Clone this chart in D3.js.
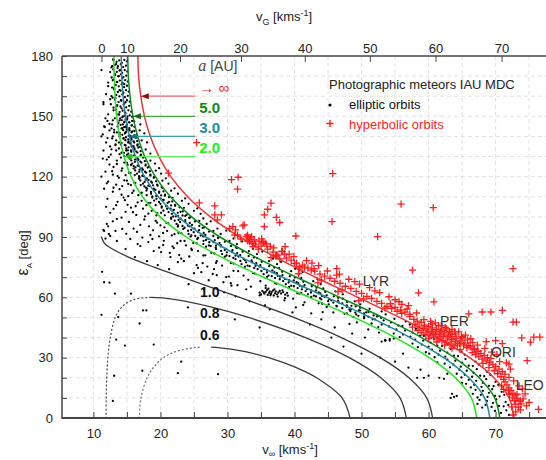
<!DOCTYPE html>
<html><head><meta charset="utf-8">
<script src="https://cdn.jsdelivr.net/npm/d3@7"></script>
<style>
html,body{margin:0;padding:0;background:#fff;}
svg{display:block;font-family:"Liberation Sans",Arial,sans-serif;}
</style></head>
<body>
<svg id="c" width="546" height="460"></svg>
<script>
// ---------------- DATA ----------------
const vInfTicks = [10,15,20,25,30,35,40,45,50,55,60,65,70,75];
const vInfLabels = [10,20,30,40,50,60,70];
const vGTicks = [0,10,20,30,40,50,60,70];
const epsTicks = [0,10,20,30,40,50,60,70,80,90,100,110,120,130,140,150,160,170,180];
const epsLabels = [0,30,60,90,120,150,180];
const gridV = [10,15,20,25,30,35,40,45,50,55,60,65,70,75];
const gridE = [10,20,30,40,50,60,70,80,90,100,110,120,130,140,150,160,170];

// theoretical curves: [v_inf, eps]
const curveAinf = [[16.64,180],[16.74,170],[17.07,160],[17.62,150],[18.49,140],[19.78,130],[21.55,120],[24.06,110],[27.45,100],[31.82,90],[37.13,80],[43.13,70],[49.47,60],[55.68,50],[61.35,40],[66.14,30],[69.75,20],[72.01,10],[72.76,0]];
const curveA5 = [[15.13,180],[15.21,170],[15.46,160],[15.90,150],[16.61,140],[17.66,130],[19.23,120],[21.49,110],[24.65,100],[28.90,90],[34.19,80],[40.29,70],[46.77,60],[53.13,50],[58.95,40],[63.86,30],[67.55,20],[69.86,10],[70.62,0]];
const curveA3 = [[14.16,180],[14.23,170],[14.42,160],[14.78,150],[15.37,140],[16.28,130],[17.63,120],[19.68,110],[22.65,100],[26.77,90],[32.05,80],[38.22,70],[44.82,60],[51.33,50],[57.25,40],[62.25,30],[66.01,20],[68.36,10],[69.14,0]];
const curveA2 = [[13.05,180],[13.09,170],[13.23,160],[13.48,150],[13.90,140],[14.57,130],[15.63,120],[17.32,110],[19.95,100],[23.85,90],[29.10,80],[35.39,70],[42.20,60],[48.90,50],[55.01,40],[60.13,30],[63.99,20],[66.38,10],[67.19,0]];
const curveA1 = [[11.2,90],[11.63,87],[12.34,85],[15.24,80],[19.05,75],[23.24,70],[31.82,60],[39.89,50],[46.98,40],[52.78,30],[57.07,20],[59.72,10],[60.61,0]];
const curveA08 = [[18.63,60],[19.38,59.9],[20.9,59.5],[23.79,58],[27.81,55],[33.13,50],[41.63,40],[48.17,30],[52.87,20],[55.74,10],[56.69,0]];
const curveA08dot = [[11.89,0],[11.91,10],[11.99,20],[12.16,30],[12.52,40],[13.26,50],[14.19,55],[15.39,58],[16.84,59.5],[17.96,59.9],[18.63,60]];
const curveA06 = [[27.64,35.2],[28.63,35],[32.67,33],[36.16,30],[40.29,25],[43.30,20],[47.09,10],[48.29,0]];
const curveA06dot = [[16.85,0],[17.10,10],[18.02,20],[18.93,25],[20.45,30],[22.25,33],[25.06,35],[25.93,35.2]];

// annotation arrows for a = inf, 5, 3, 2
const arrowEps = [160,150,140,130];
const arrowTipV = [17.07,15.90,15.37,14.57];
const arrowStartV = 25.2;
const arrowLabels = ["\u2192 \u221E","5.0","3.0","2.0"];

// labels on the a<=1 curves
const smallALabels = ["1.0","0.8","0.6"];
const smallALabelPos = [[25.9,60.3],[25.9,49.8],[25.9,38.9]];

// shower labels
const showerNames = ["LYR","PER","ORI","LEO"];
const showerPos = [[50.2,65.5],[61.7,45.5],[69.3,30.5],[73.0,14]];

// elliptic orbits [v_inf, eps]
const ellipticTop = [[13.0,178],[13.4,176],[12.8,175],[13.6,174],[14.0,173],[12.5,172],[13.2,171],[13.8,170],[14.3,169],[12.9,168],[13.5,167],[14.6,166],[12.2,165],[13.1,164],[13.9,163],[14.4,162],[11.9,161],[12.7,160],[13.3,159],[14.1,158],[14.8,157],[11.5,156],[12.6,156],[13.5,155],[14.2,154],[13.0,153],[14.7,152],[12.2,151],[13.7,151],[14.4,150],[15.1,150],[11.8,149],[13.2,149],[13.9,148],[14.6,147],[12.8,146],[15.0,146],[11.6,145],[13.6,145],[14.3,144],[15.4,143],[12.4,143],[13.1,142],[14.8,142],[11.4,141],[13.9,141],[15.6,140],[12.9,140],[14.5,139],[13.4,138],[11.9,137],[15.2,137],[14.1,136],[12.5,135],[16.0,135],[13.8,134],[14.9,133],[11.5,133],
[11.2,173],[12.2,166.8],[11.5,157],[12.5,158.5],[11.2,140],[11.7,144.7],[12.1,147.7],[11.4,129],[12.0,128.5],[11.2,120],[12.0,116.7],[13.0,114.5],[11.9,105],[12.5,102],[11.5,93.5],[12.2,95.3],[12.9,97.8],[11.8,89.2],[12.5,90.5],[13.3,93]];

const ellipticStrip = [[12.95,178.3],[13.46,177.1],[13.85,177.8],[14.24,176.6],[14.62,178.0],[15.01,177.3],
[12.70,174.3],[13.22,175.6],[13.66,174.9],[14.08,175.9],[14.44,174.5],[14.86,175.2],
[12.97,173.3],[13.49,172.1],[13.89,172.8],[14.28,171.6],[14.67,173.0],[15.06,172.3],
[12.72,169.3],[13.25,170.6],[13.69,169.9],[14.11,170.9],[14.48,169.5],[14.90,170.2],
[13.03,168.3],[13.55,167.1],[13.95,167.8],[14.35,166.6],[14.74,168.0],[15.14,167.3],
[12.79,164.3],[13.33,165.6],[13.78,164.9],[14.21,165.9],[14.58,164.5],[15.01,165.2],
[13.11,163.3],[13.65,162.1],[14.05,162.8],[14.46,161.6],[14.86,163.0],[15.27,162.3],
[12.87,159.3],[13.41,160.6],[13.88,159.9],[14.31,160.9],[14.70,159.5],[15.13,160.2],
[13.21,158.3],[13.76,157.1],[14.18,157.8],[14.60,156.6],[15.01,158.0],[15.43,157.3],
[13.00,154.3],[13.57,155.6],[14.04,154.9],[14.50,155.9],[14.89,154.5],[15.34,155.2],
[13.35,153.3],[13.92,152.1],[14.36,152.8],[14.79,151.6],[15.22,153.0],[15.65,152.3]];

const ellipticCore = [[13.84,150.8],[14.33,149.6],[14.69,150.3],[15.05,149.1],[15.42,150.5],[15.78,149.8],
[13.71,146.8],[14.21,148.1],[14.63,147.4],[15.03,148.4],[15.38,147.0],[15.78,147.7],
[14.07,145.8],[14.58,144.6],[14.97,145.3],[15.35,144.1],[15.74,145.5],[16.12,144.8],
[13.92,141.8],[14.45,143.1],[14.90,142.4],[15.32,143.4],[15.69,142.0],[16.11,142.7],
[14.31,140.8],[14.85,139.6],[15.26,140.3],[15.66,139.1],[16.07,140.5],[16.47,139.8],
[14.21,136.8],[14.77,138.1],[15.25,137.4],[15.69,138.4],[16.09,137.0],[16.53,137.7],
[14.67,135.8],[15.25,134.6],[15.68,135.3],[16.12,134.1],[16.55,135.5],[16.99,134.8],
[14.55,131.8],[15.15,133.1],[15.66,132.4],[16.14,133.4],[16.56,132.0],[17.04,132.7],
[15.03,130.8],[15.65,129.6],[16.12,130.3],[16.58,129.1],[17.04,130.5],[17.51,129.8],
[15.00,126.8],[15.65,128.1],[16.19,127.4],[16.71,128.4],[17.16,127.0],[17.67,127.7],
[15.60,125.8],[16.27,124.6],[16.78,125.3],[17.28,124.1],[17.78,125.5],[18.28,124.8],
[15.54,121.8],[16.24,123.1],[16.83,122.4],[17.38,123.4],[17.87,122.0],[18.42,122.7],
[16.17,120.8],[16.89,119.6],[17.43,120.3],[17.97,119.1],[18.51,120.5],[19.05,119.8],
[16.25,116.8],[17.00,118.1],[17.63,117.4],[18.23,118.4],[18.75,117.0],[19.35,117.7],
[17.06,115.8],[17.84,114.6],[18.43,115.3],[19.01,114.1],[19.59,115.5],[20.18,114.8],
[17.10,111.8],[17.91,113.1],[18.59,112.4],[19.24,113.4],[19.80,112.0],[20.45,112.7],
[17.95,110.8],[18.78,109.6],[19.41,110.3],[20.03,109.1],[20.66,110.5],[21.28,109.8],
[18.20,106.8],[19.06,108.1],[19.79,107.4],[20.48,108.4],[21.08,107.0],[21.77,107.7],
[19.30,105.8],[20.19,104.6],[20.86,105.3],[21.52,104.1],[22.19,105.5],[22.86,104.8],
[19.52,101.8],[20.44,103.1],[21.21,102.4],[21.95,103.4],[22.59,102.0],[23.32,102.7],
[20.66,100.8],[21.60,99.6],[22.30,100.3],[23.01,99.1],[23.71,100.5],[24.42,99.8],
[21.17,96.8],[22.13,98.1],[22.94,97.4],[23.71,98.4],[24.38,97.0],[25.15,97.7],
[22.63,95.8],[23.61,94.6],[24.34,95.3],[25.07,94.1],[25.80,95.5],[26.54,94.8],
[23.13,91.8],[24.12,93.1],[24.96,92.4],[25.76,93.4],[26.45,92.0],[27.24,92.7],
[24.61,90.8],[25.62,89.6],[26.38,90.3],[27.13,89.1],[27.89,90.5],[28.65,89.8],
[25.41,86.8],[26.43,88.1],[27.29,87.4],[28.10,88.4],[28.81,87.0],[29.62,87.7],
[27.23,85.8],[28.25,84.6],[29.01,85.3],[29.77,84.1],[30.53,85.5],[31.30,84.8],
[28.04,81.8],[29.06,83.1],[29.92,82.4],[30.74,83.4],[31.45,82.0],[32.26,82.7],
[29.86,80.8],[30.88,79.6],[31.65,80.3],[32.41,79.1],[33.17,80.5],[33.94,79.8],
[30.92,76.8],[31.93,78.1],[32.79,77.4],[33.59,78.4],[34.30,77.0],[35.11,77.7],
[32.99,75.8],[33.99,74.6],[34.74,75.3],[35.48,74.1],[36.23,75.5],[36.98,74.8],
[34.07,71.8],[35.06,73.1],[35.89,72.4],[36.69,73.4],[37.38,72.0],[38.17,72.7],
[36.13,70.8],[37.11,69.6],[37.84,70.3],[38.58,69.1],[39.31,70.5],[40.05,69.8],
[37.34,66.8],[38.30,68.1],[39.12,67.4],[39.89,68.4],[40.56,67.0],[41.33,67.7],
[39.51,65.8],[40.46,64.6],[41.17,65.3],[41.87,64.1],[42.58,65.5],[43.29,64.8],
[40.73,61.8],[41.66,63.1],[42.45,62.4],[43.20,63.4],[43.85,62.0],[44.59,62.7],
[42.89,60.8],[43.80,59.6],[44.49,60.3],[45.17,59.1],[45.86,60.5],[46.54,59.8],
[44.12,56.8],[45.02,58.1],[45.79,57.4],[46.50,58.4],[47.13,57.0],[47.85,57.7],
[46.26,55.8],[47.14,54.6],[47.80,55.3],[48.46,54.1],[49.12,55.5],[49.78,54.8],
[47.47,51.8],[48.33,53.1],[49.06,52.4],[49.76,53.4],[50.36,52.0],[51.05,52.7],
[49.53,50.8],[50.38,49.6],[51.02,50.3],[51.65,49.1],[52.28,50.5],[52.92,49.8]];

const ellipticBand = [[14.0,149],[14.8,148.5],[15.3,147],[13.7,146.5],[16.1,147.5],[14.4,146],[15.7,145.5],[12.9,148],[17.0,146],[14.9,145],
[14.2,144],[15.0,143.5],[15.8,142.5],[16.5,141],[13.5,142],[14.7,141.5],[15.4,140.5],[16.9,143],[12.7,144],[13.9,140],[17.6,141.5],[14.9,144.5],
[14.5,139],[15.2,138.5],[16.0,137.5],[16.6,136],[13.8,137],[15.5,136.5],[17.2,138],[14.8,135.5],[12.8,139],[13.3,136],[18.0,137],[15.9,135],[16.3,139.5],
[14.9,134],[15.6,133],[16.4,132.5],[17.1,131],[14.2,132],[15.2,131.5],[16.0,130.5],[17.8,133.5],[13.4,133],[12.6,131],[16.7,134.5],[18.5,131.5],[15.8,134.8],[14.6,130.2],
[15.4,129],[16.2,128.5],[17.0,127.5],[17.8,126],[14.6,127],[15.8,126.5],[16.6,125.5],[18.5,128],[13.5,128],[12.4,126],[17.4,129.5],[19.2,126.5],[16.0,125.2],[14.1,129.5],[15.1,125.8],[13.0,124.8],
[16.0,124],[16.9,123.5],[17.7,122.5],[18.5,121],[15.3,122],[16.5,121.5],[17.3,120.5],[19.3,123],[14.2,123],[12.9,121],[18.1,124.5],[20.1,121.5],[16.8,120.2],[14.8,120.8],[11.8,122.5],[13.6,120.3],[19.8,124.2],
[16.8,119],[17.8,118.5],[18.6,117.5],[19.5,116],[16.1,117],[17.4,116.5],[18.2,115.5],[20.3,118],[15.0,118],[13.4,116],[19.0,119.5],[21.2,116.5],[17.6,115.2],[15.6,115.8],[12.2,117.5],[14.3,115.3],[20.8,119.2],[18.9,115.7],
[18.0,114],[19.0,113.5],[19.8,112.5],[20.7,111],[17.2,112],[18.6,111.5],[19.4,110.5],[21.6,113],[16.0,113],[14.2,111],[20.3,114.5],[22.6,111.5],[18.8,110.2],[16.7,110.8],[12.9,112.5],[15.2,110.3],[22.1,114.2],[20.1,110.7],[11.6,114],
[19.4,109],[20.4,108.5],[21.3,107.5],[22.2,106],[18.5,107],[20.0,106.5],[20.9,105.5],[23.2,108],[17.2,108],[15.1,106],[21.8,109.5],[24.2,106.5],[20.2,105.2],[17.9,105.8],[13.6,107.5],[16.3,105.3],[23.7,109.2],[21.6,105.7],[12.1,109],[14.5,109.6],
[21.0,104],[22.0,103.5],[23.0,102.5],[23.9,101],[20.1,102],[21.7,101.5],[22.6,100.5],[25.0,103],[18.7,103],[16.4,101],[23.5,104.5],[26.0,101.5],[21.9,100.2],[19.4,100.8],[14.8,102.5],[17.7,100.3],[25.5,104.2],[23.3,100.7],[13.0,104],[15.6,104.6]];

const ellipticHalo = [[12.4,146.2],[13.1,143.3],[12.1,139.2],[13.3,135.7],[12.7,133.6],[13.9,131.2],[12.3,129.7],[13.5,126.3],[14.3,124.1],[12.8,122.7],[14.6,118.2],[13.8,119.4],[15.2,116.4],[13.9,113.8],[15.8,111.9],[14.7,108.3],[16.6,107.2],[13.4,105.8],[17.4,104.1],[15.9,102.3],[18.2,101.6],[14.2,99.6],[17.6,98.7],[19.5,97.1],[16.0,94.2],[20.6,94.8],[18.9,93.3],[14.9,91.6],[22.1,91.4],[17.3,89.7],[20.5,88.1],[22.5,86.9],[19.8,84.7],[24.6,84.2],[21.4,82.1],[26.7,80.9],[23.1,79.2],[28.3,77.1],[25.6,74.6],[30.9,73.2],[27.8,71.6],[33.1,68.7],[30.6,65.8],[35.7,64.6],[38.6,59.6],[41.3,56.2],[44.2,52.6]];

const ellipticMid = [[21.6,99],[22.7,98.5],[23.7,97.5],[24.7,96],[20.9,97],[22.4,96.5],[23.3,95.5],[25.8,98],[19.3,98],[17.0,96],[24.3,99.5],[26.9,96.5],[22.6,95.2],[20.0,95.8],[15.3,97.5],[18.3,95.3],[26.4,99.2],[24.1,95.7],[13.5,99],[12.0,96.5],[27.5,97.8],
[23.4,94],[24.6,93.5],[25.6,92.5],[26.7,91],[22.7,92],[24.2,91.5],[25.2,90.5],[27.9,93],[21.0,93],[18.5,91],[26.3,94.5],[29.0,91.5],[24.5,90.2],[21.7,90.8],[16.5,92.5],[19.8,90.3],[28.5,94.2],[26.0,90.7],[14.3,94],[12.3,91.5],[29.8,93.2],[11.6,93],
[25.5,89],[26.8,88.5],[27.9,87.5],[29.0,86],[24.9,87],[26.4,86.5],[27.5,85.5],[30.3,88],[23.0,88],[20.4,86],[28.6,89.5],[31.4,86.5],[26.8,85.2],[23.8,85.8],[18.2,87.5],[21.8,85.3],[30.9,89.2],[28.3,85.7],[15.5,89],[32.2,87.8],[17.0,85.5],
[28.3,84],[29.6,83.5],[30.7,82.5],[31.9,81],[27.6,82],[29.2,81.5],[30.3,80.5],[33.2,83],[25.6,83],[22.8,81],[31.4,84.5],[34.4,81.5],[29.6,80.2],[26.4,80.8],[20.1,82.5],[24.3,80.3],[33.8,84.2],[31.2,80.7],[35.2,82.8],
[31.2,79],[32.6,78.5],[33.7,77.5],[34.9,76],[30.5,77],[32.1,76.5],[33.3,75.5],[36.2,78],[28.4,78],[25.4,76],[34.4,79.5],[37.4,76.5],[32.6,75.2],[29.2,75.8],[22.6,77.5],[27.0,75.3],[36.8,79.2],[34.2,75.7],[38.0,77.6],
[34.5,74],[35.9,73.5],[37.0,72.5],[38.2,71],[33.8,72],[35.4,71.5],[36.6,70.5],[39.5,73],[31.6,73],[28.4,71],[37.7,74.5],[40.6,71.5],[35.9,70.2],[32.4,70.8],[26.1,72.5],[30.2,70.3],[40.1,74.2],[37.5,70.7],[41.2,72.6],
[37.8,69],[39.2,68.5],[40.3,67.5],[41.5,66],[37.1,67],[38.7,66.5],[39.9,65.5],[42.8,68],[34.9,68],[31.5,66],[41.0,69.5],[43.9,66.5],[39.2,65.2],[35.7,65.8],[29.4,67.5],[33.5,65.3],[43.4,69.2],[40.8,65.7],
[41.1,64],[42.5,63.5],[43.6,62.5],[44.8,61],[40.4,62],[42.0,61.5],[43.2,60.5],[46.1,63],[38.2,63.5],[34.8,61],[44.3,64.5],[47.2,61.5],[42.5,60.2],[39.0,60.8],[46.7,64.2],[44.1,60.7]];

const ellipticBlob = [[34.8,62.3],[35.2,63.1],[35.5,61.8],[35.7,62.7],[35.9,63.6],[36.0,61.2],[36.2,62.2],[36.3,63.0],[36.5,61.7],[36.6,62.6],[36.8,63.4],[36.9,60.9],[37.1,62.0],[37.2,62.9],[37.4,61.5],[37.6,62.4],[37.8,63.2],[38.0,61.9],[38.3,62.6],[38.6,61.3],[35.4,62.5],[36.4,61.0],[37.0,64.0],[35.0,61.4],[38.9,62.2],[36.1,64.3],[37.5,60.4]];

const ellipticLow = [[44.0,59],[45.5,58.5],[46.6,57.5],[47.8,56],[43.6,57],[45.1,56.5],[46.3,55.5],[49.0,58],[48.5,55.8],[47.2,59.3],[49.8,56.5],[44.8,55.2],[41.5,57.5],
[48.2,54],[49.6,53.5],[50.7,52.5],[51.8,51],[47.8,52],[49.2,51.5],[50.4,50.5],[53.0,53],[52.5,50.8],[51.2,54.3],[53.6,51.5],[48.8,50.2],[45.8,52.5],
[52.0,49],[53.3,48.5],[54.4,47.5],[55.5,46],[51.5,47],[53.0,46.5],[54.1,45.5],[56.6,48],[56.1,45.8],[54.9,49.3],[57.2,46.5],[52.5,45.2],[49.3,47.5],
[55.2,44],[56.5,43.5],[57.6,42.5],[58.7,41],[54.8,42],[56.2,41.5],[57.3,40.5],[59.8,43],[59.3,40.8],[58.1,44.3],[60.3,41.5],[55.7,40.2],[52.6,42.5],[53.5,38.8],
[58.0,39],[59.2,38.5],[60.3,37.5],[61.3,36],[57.6,37],[59.0,36.5],[60.0,35.5],[62.5,38],[62.0,35.8],[60.8,39.3],[62.9,36.5],[58.4,35.2],[53.6,38.5],[54.2,39.2],[53.0,38.0],
[60.5,34],[61.7,33.5],[62.8,32.5],[63.8,31],[60.1,32],[61.5,31.5],[62.5,30.5],[64.9,33],[64.4,30.8],[63.3,34.3],[65.4,31.5],[60.9,30.2],
[62.8,29],[64.0,28.5],[65.0,27.5],[66.0,26],[62.4,27],[63.7,26.5],[64.8,25.5],[67.0,28],[66.6,25.8],[65.5,29.3],[67.5,26.5],[63.2,25.2],
[64.6,24],[65.7,23.5],[66.7,22.5],[67.7,21],[64.2,22],[65.4,21.5],[66.5,20.5],[68.7,23],[68.3,20.8],[67.2,24.3],[69.2,21.5],[64.9,20.2],
[66.0,19],[67.1,18.5],[68.1,17.5],[69.0,16],[65.6,17],[66.8,16.5],[67.9,15.5],[70.0,18],[69.7,15.8],[68.6,19.3],[70.4,16.5],[66.3,15.2],
[67.0,14],[68.1,13.5],[69.0,12.5],[69.9,11],[66.6,12],[67.8,11.5],[68.8,10.5],[70.9,13],[70.6,10.8],[69.5,14.3],[71.3,11.5],[67.3,10.2],
[67.6,9],[68.7,8.5],[69.6,7.5],[70.5,6],[67.3,7],[68.5,6.5],[69.4,5.5],[71.5,8],[71.2,5.8],[70.1,9.3],[71.9,6.5],[68.0,5.2],[69.9,3.5],[70.8,2.5],[71.6,3.8],[72.0,1.5]];

const ellipticScatter = [[11.3,72.7],[11.6,67.5],[12.4,67.3],[13.2,61.8],[15.6,61.8],[11.2,51.3],[13.7,50.2],[13.4,39],[14.7,36],[13.1,21],[12.9,8.5],[16.9,47],[17.4,53.5],[17.9,53.5],[19.0,36.5],[17.3,23.5],[22.6,22.3],[23.1,28],[28.6,21.8],[24.1,55],[31.1,49],[34.8,45],[48.2,46.8],[53.5,38.5],[54.2,38.5],[54.8,39.5],[58.3,20],[59.3,20],[60.0,21],[61.6,20],[63.5,12],[63.3,10],[63.8,10.5],[64.2,11],[62.3,19.5],[62.8,22],[65.0,17.5],[61.3,27.7],[59.6,32.7],
[13.5,88],[14.8,84],[16.2,80],[18.0,78],[19.6,76],[21.3,74],[16.6,86.5],[19.0,83],[21.5,80],[23.5,78],[25.0,72],[27.2,68.5],[29.8,70],[22.0,84.5],[24.7,83.5],[18.8,89],[20.4,92],[23.6,88],[26.3,77],[28.0,74],[30.5,67],[32.8,64],[31.2,60.5],[26.5,64],[24.2,66.5],[29.5,62.5],[33.3,58],[35.6,56],[38.5,58.5],[40.2,55],[42.5,52],[44.0,49],[46.0,45],[48.6,42],[50.5,40],[39.7,52.5],[36.3,54],[42.3,46.5],[45.5,40],[47.3,35.5],[50.0,32],[52.8,30],[55.0,28],[57.0,25],[58.8,24],[56.2,32],[51.0,44],[41.0,62.2],[39.8,59.3]];

// hyperbolic orbits [v_inf, eps]
const hyperOutliers = [[25.4,136.9],[21.2,121.8],[30.6,118.5],[31.6,119.7],[31.5,113.8],[45.7,121.5],[55.9,106.3],[60.7,104.6],[45.6,97.6],[52.4,90.2],[57.6,73.5],[72.6,74.3],[46.3,74.3],[40.2,90.5],[36.5,106.8],[36.0,103.8],[35.5,101],[35.5,95.2],[37.3,99.8],[37.8,97.2],[28.1,105.5],[28.1,101],[29.1,101],[30.8,95.2],[30.3,94.3],[31.2,93.5],[32.3,95.5],[33.0,91],[33.5,88.8],[35.3,87.2],[38.6,85.2],[39.2,81.5],[38.5,81.5],[37.2,80.5],[40.0,76.8],[40.7,75.2],[41.5,75],[42.5,73.5],[42.9,74.3],[25.8,107],[28.5,98.5],[32.5,96],[31.1,91],[32.8,90.2],[33.3,87.7],[35.3,87.7],[33.8,85.2],[37.3,81],[58.5,62.2],[60.8,57.7],[66.0,51.8],[68.0,52.7],[69.3,52.7],[71.0,53.5],[72.6,47.7],[73.1,47.7],[73.9,39.8],[75.2,37.7],[75.7,40.2],[76.6,40.2],[74.7,28.5],[76.4,4.3],[75.0,7.7]];

const hyperBand = [[32.0,89],[33.0,88],[34.2,86.5],[35.0,85.5],[36.0,84],[36.8,82.5],[37.5,81],[38.8,79.5],[39.5,78.5],[40.3,77],[41.2,76],[42.0,74.5],[43.0,73],[43.8,71.5],[44.5,70.5],[45.3,69.5],[46.0,68],[46.8,67],[47.6,65.5],[48.4,64.5],[49.2,63],[50.0,62],[50.8,60.5],[51.5,59.5],[52.3,58],[53.0,57],[53.8,55.5],[54.5,54.5],[55.3,53],[56.0,52],
[33.8,87],[35.6,86.8],[36.9,84.6],[38.1,83],[39.9,80.2],[41.8,78.3],[43.6,75.8],[44.9,73.1],[46.7,71.5],[48.1,69],[49.7,66.6],[51.2,64.8],[52.7,62.3],[54.1,60.3],[55.6,57.8],[57.0,55.9],[34.6,84.0],[37.8,79.1],[40.8,74.0],[44.0,68.6],[47.1,63.7],[50.3,59.2],[53.5,54.7],[38.2,82.7],[42.6,77.0],[46.3,71.0],[49.0,67.8],[52.0,63.2],[55.0,58.8],[31.5,91.0],[33.6,90.2],
[40.6,71.8],[43.5,67.2],[46.5,62.8],[49.6,58.3],[36.5,79.8],[33.2,89.5],[34.0,88.6],[34.7,87.9],[35.8,86.5],[35.1,89.1],[36.4,85.3],
[55.0,55.0],[55.8,53.8],[56.5,52.6],[57.2,51.5],[56.8,54.2],[58.2,52.2],[54.3,56.8],[56.0,56.5]];

const hyperPER = [[57.2,50.5],[57.8,49],[58.3,48.2],[58.9,47.5],[59.4,46.2],[60.0,45.5],[60.6,44.8],[61.2,44.0],[61.8,43.1],[62.4,42.3],[63.0,41.2],[63.6,40.5],[64.2,39.6],[64.8,38.3],[65.4,37.2],[66.0,36.0],
[58.0,46.5],[58.6,45.3],[59.2,44.6],[59.8,43.8],[60.4,43.0],[61.0,42.2],[61.6,41.4],[62.2,40.6],[62.8,39.8],[63.4,38.9],[64.0,38.0],[64.6,37.1],[65.2,36.2],
[59.0,42.4],[59.6,41.6],[60.2,40.8],[60.8,40.0],[61.4,39.2],[62.0,38.4],[62.6,37.6],[63.2,36.8],[63.8,35.9],
[60.5,46.8],[61.5,46.0],[62.5,45.0],[63.5,44.0],[64.5,42.8],[65.5,41.2],[66.3,39.5],
[59.3,48.9],[60.3,48.0],[61.0,47.3],[62.0,43.7],[63.1,43.0],[64.0,41.8],[64.9,40.6],[65.8,38.8],[66.6,37.5],
[60.0,39.5],[61.2,37.8],[62.4,36.2],[63.5,34.7],[64.7,34.0],
[58.4,43.5],[57.6,45.2],[61.9,45.8],[63.9,42.9],[65.1,39.9],[62.7,44.3],[60.7,41.9],[61.7,40.3],[63.3,41.7],[64.3,36.2],[65.7,35.0],[66.8,34.5],[67.4,33.2]];

const hyperORI = [[66.2,35.5],[66.8,34.0],[67.2,33.0],[67.8,32.0],[68.3,31.0],[68.8,30.0],[67.0,31.5],[67.5,30.5],[68.0,29.3],[68.6,28.4],[69.1,27.5],[69.6,26.5],[70.0,25.5],[70.5,24.3],[71.0,23.0],[71.4,21.8],[68.1,27.2],[69.0,25.0],[69.8,23.5],[70.3,22.0],[70.8,20.5],[71.2,19.2],[66.5,32.5],[67.3,36.2],[68.4,34.6],[69.4,32.8],[70.2,31.5],[71.0,37.0],[70.0,38.5],[68.6,38.0],[72.0,26.8],[72.2,24.3],[72.0,20.2],[69.3,29.6],[70.6,28.0],[71.6,27.4]];

const hyperLEO = [[71.4,18.0],[71.7,16.5],[72.0,15.0],[72.3,13.6],[72.6,12.2],[72.9,11.0],[73.2,9.6],[73.5,8.4],[73.8,7.0],[72.1,11.8],[72.5,10.0],[72.8,8.6],[73.0,6.8],[73.4,5.4],[73.7,4.0],[74.1,9.5],[74.4,12.0],[73.7,8.5],[73.2,11.8],[74.6,6.0],[71.9,13.8],[72.4,5.5],[73.0,3.0],[72.6,1.5],[70.9,16.0],[71.2,14.2],[74.0,14.5],[73.5,16.0],[72.7,18.5]];

// ---------------- DRAW ----------------
const W = 546, H = 460;
const L = 62, R = 546, T = 56, B = 418;
const svg = d3.select("#c");
const x = d3.scaleLinear().domain([10,70]).range([93.4,495.6]);
const y = d3.scaleLinear().domain([0,180]).range([B,T]);
const vEsc = 11.2;
const FONT = "'Liberation Sans',Arial,sans-serif";

svg.append("defs").append("clipPath").attr("id","plot")
  .append("rect").attr("x",L).attr("y",T).attr("width",R-L).attr("height",B-T);

// grid
const grid = svg.append("g").attr("stroke","#d9d9d9").attr("stroke-width",0.8).attr("stroke-dasharray","4,3");
grid.selectAll("line.v").data(gridV).join("line").attr("class","v")
  .attr("x1",d=>x(d)).attr("x2",d=>x(d)).attr("y1",T).attr("y2",B);
grid.selectAll("line.h").data(gridE).join("line").attr("class","h")
  .attr("x1",L).attr("x2",R).attr("y1",d=>y(d)).attr("y2",d=>y(d));

const plot = svg.append("g").attr("clip-path","url(#plot)");

// elliptic dots
const elliptic = [].concat(ellipticTop, ellipticStrip, ellipticCore, ellipticBand, ellipticHalo, ellipticMid, ellipticBlob, ellipticLow, ellipticScatter);
plot.append("g").selectAll("circle").data(elliptic).join("circle")
  .attr("cx",d=>x(d[0])).attr("cy",d=>y(d[1])).attr("r",1.15).attr("fill","#000");

// curves
const line = d3.line().x(d=>x(d[0])).y(d=>y(d[1])).curve(d3.curveCatmullRom.alpha(0.5));
const curves = [
  {d:curveA1, c:"#3a3a3a", w:1.3},
  {d:curveA08, c:"#3a3a3a", w:1.3},
  {d:curveA06, c:"#3a3a3a", w:1.3},
  {d:curveA08dot, c:"#555", w:1.3, dash:"1,3"},
  {d:curveA06dot, c:"#777", w:1.3, dash:"1,3"},
  {d:curveA2, c:"#22e022", w:1.5},
  {d:curveA3, c:"#1f8a9c", w:1.5},
  {d:curveA5, c:"#0a8a1a", w:1.5},
  {d:curveAinf, c:"#e8363a", w:1.5}
];
plot.append("g").selectAll("path").data(curves).join("path")
  .attr("d",c=>line(c.d)).attr("fill","none").attr("stroke",c=>c.c)
  .attr("stroke-width",c=>c.w).attr("stroke-dasharray",c=>c.dash||null)
  .attr("stroke-linecap","round");

// hyperbolic crosses
const hyper = [].concat(hyperOutliers, hyperBand, hyperPER, hyperORI, hyperLEO);
plot.append("g").selectAll("path").data(hyper).join("path")
  .attr("d",d=>`M${x(d[0])-3.6},${y(d[1])}H${x(d[0])+3.6}M${x(d[0])},${y(d[1])-3.6}V${y(d[1])+3.6}`)
  .attr("stroke","#ff1f1f").attr("stroke-width",1.3).attr("fill","none");

// annotation arrows
const arrowLine = ["#e46a6a","#4aa84a","#3f9aa8","#5ee85e"];
const arrowHead = ["#8b1010","#0d6b0d","#176f7c","#22c022"];
const arrowText = ["#e8262a","#0e8a12","#1e8c9c","#22ee22"];
const ann = svg.append("g");
arrowEps.forEach((e,i)=>{
  const yy = y(e), xt = x(arrowTipV[i]), xs = x(arrowStartV);
  ann.append("line").attr("x1",xs).attr("x2",xt+6).attr("y1",yy).attr("y2",yy)
    .attr("stroke",arrowLine[i]).attr("stroke-width",1.2);
  ann.append("path").attr("d",`M${xt},${yy}L${xt+8},${yy-3}L${xt+8},${yy+3}Z`).attr("fill",arrowHead[i]);
  ann.append("text").attr("x",xs+4).attr("y",yy-3.3).text(arrowLabels[i])
    .attr("fill",arrowText[i]).attr("font-family",FONT)
    .attr("font-size",15).attr("font-weight",i===0?"normal":"bold");
});
const aT = ann.append("text").attr("x",x(arrowStartV)+3).attr("y",71).attr("font-family",FONT).attr("font-size",14).attr("fill","#444");
aT.append("tspan").text("a").attr("font-family","'Liberation Serif','Times New Roman',serif").attr("font-style","italic").attr("font-size",16);
aT.append("tspan").text(" [AU]");

// small a labels
svg.append("g").selectAll("text").data(smallALabels).join("text")
  .attr("x",(d,i)=>x(smallALabelPos[i][0])).attr("y",(d,i)=>y(smallALabelPos[i][1]))
  .text(d=>d).attr("font-family",FONT).attr("font-size",14).attr("font-weight","bold").attr("fill","#111");

// shower labels
svg.append("g").selectAll("text").data(showerNames).join("text")
  .attr("x",(d,i)=>x(showerPos[i][0])).attr("y",(d,i)=>y(showerPos[i][1]))
  .text(d=>d).attr("font-family",FONT).attr("font-size",14).attr("fill","#333");

// legend
const lg = svg.append("g").attr("font-family",FONT).attr("font-size",13);
lg.append("text").attr("x",329).attr("y",88.5).attr("fill","#222").text("Photographic meteors IAU MDC");
lg.append("circle").attr("cx",330).attr("cy",105).attr("r",1.6).attr("fill","#000");
lg.append("text").attr("x",349).attr("y",108.5).attr("fill","#111").text("elliptic orbits");
lg.append("path").attr("d","M326.4,123.5H333.6M330,119.9V127.1").attr("stroke","#ff1f1f").attr("stroke-width",1.4);
lg.append("text").attr("x",349).attr("y",128.5).attr("fill","#ff1f1f").text("hyperbolic orbits");

// axes
function styleAxis(g){
  g.select(".domain").remove();
  g.selectAll(".tick line").attr("stroke","#444").attr("stroke-width",1);
  g.selectAll(".tick text").attr("font-family",FONT).attr("font-size",13).attr("fill","#222");
}
svg.append("g").attr("transform",`translate(${L},0)`)
  .call(d3.axisLeft(y).tickValues(epsTicks).tickSizeInner(-5).tickSizeOuter(0).tickPadding(9)
    .tickFormat(d=>epsLabels.includes(d)?d:""))
  .call(styleAxis);
svg.append("g").attr("transform",`translate(0,${B})`)
  .call(d3.axisBottom(x).tickValues(vInfTicks).tickSizeInner(-6).tickSizeOuter(0).tickPadding(10.5)
    .tickFormat(d=>vInfLabels.includes(d)?d:""))
  .call(styleAxis);
svg.append("g").attr("transform",`translate(0,${T})`)
  .call(d3.axisTop(x).tickValues(vGTicks.map(g=>Math.sqrt(g*g+vEsc*vEsc))).tickSizeInner(-6).tickSizeOuter(0).tickPadding(3)
    .tickFormat((d,i)=>vGTicks[i]))
  .call(styleAxis);

// spines
const sp = svg.append("g").attr("stroke","#444");
sp.append("line").attr("x1",L).attr("x2",L).attr("y1",T).attr("y2",B+1).attr("stroke-width",1.5);
sp.append("line").attr("x1",L).attr("x2",W).attr("y1",T).attr("y2",T).attr("stroke-width",1.5);
sp.append("line").attr("x1",L).attr("x2",W).attr("y1",B).attr("y2",B).attr("stroke-width",2);

// axis titles
const tt = svg.append("text").attr("x",284).attr("y",21).attr("text-anchor","middle").attr("font-family",FONT).attr("font-size",13).attr("fill","#222");
tt.append("tspan").text("v");
tt.append("tspan").text("G").attr("font-size",9).attr("dy",4);
tt.append("tspan").text(" [kms").attr("dy",-4);
tt.append("tspan").text("-1").attr("font-size",9).attr("dy",-5);
tt.append("tspan").text("]").attr("dy",5);

const bt = svg.append("text").attr("x",290).attr("y",454).attr("text-anchor","middle").attr("font-family",FONT).attr("font-size",13).attr("fill","#222");
bt.append("tspan").text("v");
bt.append("tspan").text("\u221E").attr("font-size",9).attr("dy",3);
bt.append("tspan").text(" [kms").attr("dy",-3);
bt.append("tspan").text("-1").attr("font-size",9).attr("dy",-5);
bt.append("tspan").text("]").attr("dy",5);

const yt = svg.append("text").attr("transform","translate(28,253) rotate(-90)").attr("text-anchor","middle").attr("font-family",FONT).attr("font-size",13).attr("fill","#222");
yt.append("tspan").text("\u03B5").attr("font-size",16);
yt.append("tspan").text("A").attr("font-size",8).attr("dy",4);
yt.append("tspan").text(" [deg]").attr("dy",-4);
</script>
</body></html>
